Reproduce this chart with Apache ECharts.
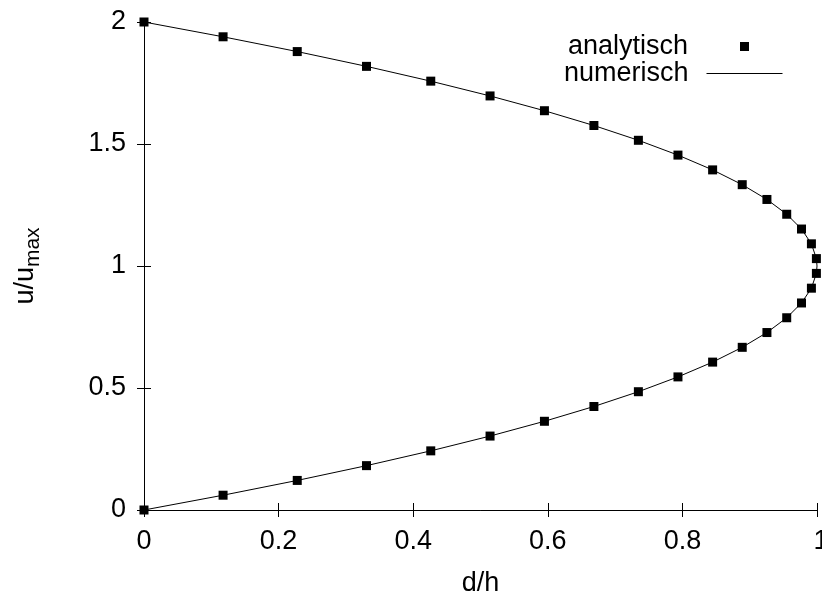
<!DOCTYPE html>
<html>
<head>
<meta charset="utf-8">
<script src="https://cdn.jsdelivr.net/npm/echarts@6/dist/echarts.min.js"></script>
<style>
html,body{margin:0;padding:0;background:#fff;}
#chart{width:822px;height:595px;}
</style>
</head>
<body>
<div id="chart"></div>
<script>
// d/h values (x) and u/u_max values (y)
const analytX = [0, 0.1175, 0.2277, 0.3306, 0.4261, 0.5142, 0.5950, 0.6685, 0.7346, 0.7934, 0.8449, 0.8889, 0.9256, 0.9550, 0.9770, 0.9917, 0.9991,
                 0.9991, 0.9917, 0.9770, 0.9550, 0.9256, 0.8889, 0.8449, 0.7934, 0.7346, 0.6685, 0.5950, 0.5142, 0.4261, 0.3306, 0.2277, 0.1175, 0];
const analytY = [0, 0.0606, 0.1212, 0.1818, 0.2424, 0.3030, 0.3636, 0.4242, 0.4848, 0.5455, 0.6061, 0.6667, 0.7273, 0.7879, 0.8485, 0.9091, 0.9697,
                 1.0303, 1.0909, 1.1515, 1.2121, 1.2727, 1.3333, 1.3939, 1.4545, 1.5152, 1.5758, 1.6364, 1.6970, 1.7576, 1.8182, 1.8788, 1.9394, 2.0];
const numX = [0, 0.1175, 0.2277, 0.3306, 0.4261, 0.5142, 0.5950, 0.6685, 0.7346, 0.7934, 0.8449, 0.8889, 0.9256, 0.9550, 0.9770, 0.9917, 0.9991, 1.0,
              0.9991, 0.9917, 0.9770, 0.9550, 0.9256, 0.8889, 0.8449, 0.7934, 0.7346, 0.6685, 0.5950, 0.5142, 0.4261, 0.3306, 0.2277, 0.1175, 0];
const numY = [0, 0.0606, 0.1212, 0.1818, 0.2424, 0.3030, 0.3636, 0.4242, 0.4848, 0.5455, 0.6061, 0.6667, 0.7273, 0.7879, 0.8485, 0.9091, 0.9697, 1.0,
              1.0303, 1.0909, 1.1515, 1.2121, 1.2727, 1.3333, 1.3939, 1.4545, 1.5152, 1.5758, 1.6364, 1.6970, 1.7576, 1.8182, 1.8788, 1.9394, 2.0];
const xTicks = [0, 0.2, 0.4, 0.6, 0.8, 1];
const xTickLabels = ['0', '0.2', '0.4', '0.6', '0.8', '1'];
const yTicks = [0, 0.5, 1, 1.5, 2];
const seriesNames = ['analytisch', 'numerisch'];
const xName = 'd/h';

const FONT = '"Liberation Sans", Arial, sans-serif';
const chart = echarts.init(document.getElementById('chart'), null, {renderer: 'canvas'});

const axisCommon = {
  axisLine: {show: true, lineStyle: {color: '#000', width: 1}},
  axisTick: {show: true, inside: true, length: 7, lineStyle: {color: '#000', width: 1}},
  splitLine: {show: false}
};

function xLabel(v) {
  let best = 0;
  for (let i = 1; i < xTicks.length; i++) {
    if (Math.abs(xTicks[i] - v) < Math.abs(xTicks[best] - v)) best = i;
  }
  return best === xTicks.length - 1 ? '{r|' + xTickLabels[best] + '}' : xTickLabels[best];
}

const option = {
  backgroundColor: '#fff',
  animation: false,
  grid: {left: 144, right: 5, top: 22, bottom: 85, containLabel: false, outerBoundsMode: 'none'},
  legend: [
    {
      data: [seriesNames[0]],
      align: 'right',
      right: 73, top: 33,
      padding: 0,
      itemWidth: 9, itemHeight: 9,
      icon: 'rect',
      itemStyle: {color: '#000', opacity: 1},
      formatter: '{p|{name}}',
      textStyle: {rich: {p: {fontFamily: FONT, fontSize: 27, color: '#000', lineHeight: 28, padding: [0, 47, 0, 0]}}}
    },
    {
      data: [seriesNames[1]],
      align: 'right',
      right: 39, top: 60,
      padding: 0,
      itemWidth: 76, itemHeight: 14,
      itemStyle: {color: 'rgba(0,0,0,0)', opacity: 0, borderWidth: 0},
      lineStyle: {color: '#000', width: 1},
      formatter: '{p|{name}}',
      textStyle: {rich: {p: {fontFamily: FONT, fontSize: 27, color: '#000', lineHeight: 28, padding: [0, 13, 0, 0]}}}
    }
  ],
  xAxis: [
    Object.assign({
      type: 'value', min: xTicks[0], max: xTicks[xTicks.length - 1], interval: xTicks[1] - xTicks[0],
      position: 'bottom',
      name: xName, nameLocation: 'middle', nameGap: 60,
      nameTextStyle: {fontFamily: FONT, fontSize: 27, color: '#000'},
      axisLabel: {
        fontFamily: FONT, fontSize: 27, color: '#000', margin: 18,
        formatter: xLabel,
        rich: {r: {fontFamily: FONT, fontSize: 27, color: '#000', padding: [0, 0, 0, 8]}}
      }
    }, axisCommon),
    Object.assign({
      type: 'value', min: xTicks[0], max: xTicks[xTicks.length - 1], interval: xTicks[1] - xTicks[0],
      position: 'top', axisLabel: {show: false}
    }, axisCommon)
  ],
  yAxis: [
    Object.assign({
      type: 'value', min: yTicks[0], max: yTicks[yTicks.length - 1], interval: yTicks[1] - yTicks[0],
      position: 'left',
      name: '{a|u/u}{b|max}', nameLocation: 'middle', nameGap: 100, nameRotate: 90,
      nameTextStyle: {
        color: '#000',
        rich: {
          a: {fontFamily: FONT, fontSize: 27, color: '#000'},
          b: {fontFamily: FONT, fontSize: 21, color: '#000', padding: [16, 0, 0, 0]}
        }
      },
      axisLabel: {fontFamily: FONT, fontSize: 27, color: '#000', margin: 18}
    }, axisCommon),
    Object.assign({
      type: 'value', min: yTicks[0], max: yTicks[yTicks.length - 1], interval: yTicks[1] - yTicks[0],
      position: 'right', axisLabel: {show: false}
    }, axisCommon)
  ],
  series: [
    {
      name: seriesNames[1],
      type: 'line',
      xAxisIndex: 0, yAxisIndex: 0,
      data: numX.map((x, i) => [x, numY[i]]),
      symbol: 'none',
      smooth: false,
      lineStyle: {color: '#000', width: 1},
      itemStyle: {color: '#000'},
      z: 2
    },
    {
      name: seriesNames[0],
      type: 'scatter',
      xAxisIndex: 0, yAxisIndex: 0,
      data: analytX.map((x, i) => [x, analytY[i]]),
      symbol: 'rect',
      symbolSize: 9,
      itemStyle: {color: '#000', opacity: 1},
      z: 3
    }
  ]
};
chart.setOption(option);
</script>
</body>
</html>
